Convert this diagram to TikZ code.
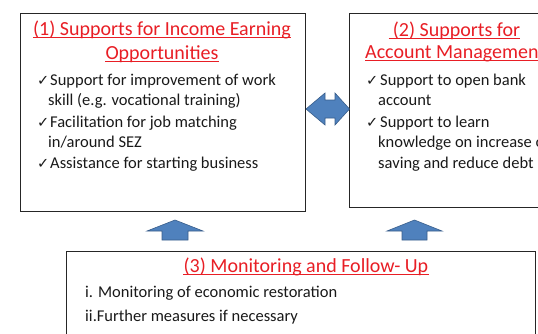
\documentclass[tikz,border=0pt]{standalone}
\usepackage{fontspec}
\setmainfont{Carlito}
\newfontfamily\checkfont{DejaVu Sans}
\definecolor{headred}{RGB}{232,30,37}
\definecolor{arrowfill}{RGB}{79,129,189}
\definecolor{arrowline}{RGB}{56,93,138}
\definecolor{bodytext}{RGB}{25,25,25}
\begin{document}
\begin{tikzpicture}[x=1pt,y=-1pt,
  panel/.style={draw=black!85,line width=1pt},
  headtext/.style={anchor=base,inner sep=0pt,text=headred,font=\fontsize{20}{23}\selectfont},
  bodyline/.style={anchor=base west,inner sep=0pt,text=bodytext,font=\fontsize{16.5}{20}\selectfont},
  tick/.style={anchor=base west,inner sep=0pt,text=bodytext,font=\checkfont\fontsize{14.5}{15}\selectfont},
  rule/.style={draw=headred,line width=1.4pt},
  block/.style={fill=arrowfill,draw=arrowline,line width=0.6pt,line join=miter}]
\useasboundingbox (0,0) rectangle (538,333);
\clip (0,0) rectangle (538,333);

% panels
\draw[panel] (20,13) rectangle (305,211);
\draw[panel] (349,13) rectangle (570,207);
\draw[panel] (66,251) rectangle (535,360);

% panel (1): income earning opportunities
\node[headtext] (h1a) at (162,35) {(1) Supports for Income Earning};
\node[headtext] (h1b) at (162,59) {Opportunities};
\draw[rule] ([yshift=-2.5pt]h1a.base west) -- ([yshift=-2.5pt]h1a.base east);
\draw[rule] ([yshift=-2.5pt]h1b.base west) -- ([yshift=-2.5pt]h1b.base east);
\node[tick] (c1a) at (37,85) {✓};
\node[bodyline] (l1a) at (50,85) {Support for improvement of work};
\node[bodyline] (l1b) at (48,105.5) {skill (e.g. vocational training)};
\node[tick] (c1b) at (37,127) {✓};
\node[bodyline] (l1c) at (50,127) {Facilitation for job matching};
\node[bodyline] (l1d) at (48,147.5) {in/around SEZ};
\node[tick] (c1c) at (37,168) {✓};
\node[bodyline] (l1e) at (50,168) {Assistance for starting business};

% panel (2): account management
\node[headtext] (h2a) at (456.5,36) {(2) Supports for};
\node[headtext,anchor=base west] (h2b) at (365,58) {Account Management};
\draw[rule] ([yshift=-2.5pt,xshift=-4pt]h2a.base west) -- ([yshift=-2.5pt]h2a.base east);
\draw[rule] ([yshift=-2.5pt]h2b.base west) -- ([yshift=-2.5pt]h2b.base east);
\node[tick] (c2a) at (366,85) {✓};
\node[bodyline] (l2a) at (380,85) {Support to open bank};
\node[bodyline] (l2b) at (378,105.5) {account};
\node[tick] (c2b) at (366,127) {✓};
\node[bodyline] (l2c) at (380,127) {Support to learn};
\node[bodyline] (l2d) at (378,147.5) {knowledge on increase of};
\node[bodyline] (l2e) at (378,168) {saving and reduce debt};

% panel (3): monitoring and follow-up
\node[headtext] (h3) at (306,272) {(3) Monitoring and Follow- Up};
\draw[rule] ([yshift=-2.5pt]h3.base west) -- ([yshift=-2.5pt]h3.base east);
\node[bodyline] (m1) at (85,297) {i. Monitoring of economic restoration};
\node[bodyline] (m2) at (85,321) {ii.Further measures if necessary};

% two-headed link between panels (1) and (2)
\draw[block] (306,109) -- (325,93) -- (325,100) -- (335,100) -- (335,93) -- (349.5,109)
  -- (335,125) -- (335,118) -- (325,118) -- (325,125) -- cycle;

% upward arrows from panel (3)
\draw[block] (175,220) -- (203,231) -- (188,231) -- (188,240) -- (162,240) -- (162,231) -- (147,231) -- cycle;
\draw[block] (414.5,220) -- (442,231) -- (427,231) -- (427,240) -- (402,240) -- (402,231) -- (387,231) -- cycle;
\end{tikzpicture}
\end{document}
